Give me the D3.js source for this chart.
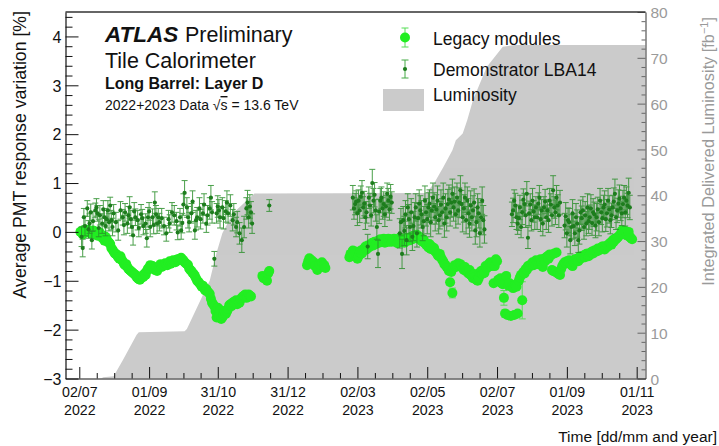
<!DOCTYPE html>
<html>
<head>
<meta charset="utf-8">
<script src="https://cdn.jsdelivr.net/npm/d3@7"></script>
<style>
  body { margin: 0; background: #fff; }
  svg { display: block; }
  text { font-family: "Liberation Sans", Arial, Helvetica, sans-serif; }
</style>
</head>
<body>
<svg id="chart" width="719" height="446"></svg>
<script>
// ---------------- data ----------------
// Bottom axis labels (two lines: day/month and year)
const tickDates = ['2022-07-02','2022-09-01','2022-10-31','2022-12-31','2023-03-02','2023-05-02','2023-07-02','2023-09-01','2023-11-01'];
const tickDayLabels = ['02/07','01/09','31/10','31/12','02/03','02/05','02/07','01/09','01/11'];
const tickYearLabels = ['2022','2022','2022','2022','2023','2023','2023','2023','2023'];

// Legacy modules: mean PMT response variation [%], one line per month
const legacyDates = [
  '2022-07-03','2022-07-04','2022-07-05','2022-07-06','2022-07-07','2022-07-08','2022-07-09','2022-07-10','2022-07-11','2022-07-12','2022-07-13','2022-07-14','2022-07-15','2022-07-16','2022-07-18','2022-07-19','2022-07-20','2022-07-21','2022-07-22','2022-07-23','2022-07-24','2022-07-25','2022-07-26','2022-07-27','2022-07-28','2022-07-29','2022-07-30','2022-07-31',
  '2022-08-01','2022-08-02','2022-08-03','2022-08-04','2022-08-05','2022-08-06','2022-08-07','2022-08-08','2022-08-09','2022-08-10','2022-08-11','2022-08-12','2022-08-13','2022-08-14','2022-08-15','2022-08-16','2022-08-17','2022-08-18','2022-08-19','2022-08-20','2022-08-21','2022-08-22','2022-08-23','2022-08-24','2022-08-25','2022-08-26','2022-08-27','2022-08-28','2022-08-29','2022-08-30','2022-08-31',
  '2022-09-01','2022-09-02','2022-09-03','2022-09-04','2022-09-05','2022-09-06','2022-09-07','2022-09-08','2022-09-09','2022-09-10','2022-09-11','2022-09-12','2022-09-13','2022-09-14','2022-09-15','2022-09-16','2022-09-17','2022-09-18','2022-09-19','2022-09-20','2022-09-21','2022-09-22','2022-09-23','2022-09-24','2022-09-25','2022-09-26','2022-09-27','2022-09-28','2022-09-29','2022-09-30',
  '2022-10-01','2022-10-02','2022-10-03','2022-10-04','2022-10-05','2022-10-06','2022-10-07','2022-10-08','2022-10-09','2022-10-10','2022-10-11','2022-10-12','2022-10-13','2022-10-14','2022-10-15','2022-10-16','2022-10-17','2022-10-18','2022-10-19','2022-10-20','2022-10-21','2022-10-22','2022-10-23','2022-10-24','2022-10-25','2022-10-26','2022-10-27','2022-10-28','2022-10-29','2022-10-30','2022-10-31',
  '2022-11-01','2022-11-02','2022-11-03','2022-11-04','2022-11-05','2022-11-06','2022-11-07','2022-11-08','2022-11-09','2022-11-10','2022-11-11','2022-11-12','2022-11-13','2022-11-14','2022-11-15','2022-11-16','2022-11-17','2022-11-18','2022-11-19','2022-11-20','2022-11-21','2022-11-22','2022-11-23','2022-11-24','2022-11-25','2022-11-26','2022-11-27','2022-11-28','2022-11-29',
  '2022-12-09','2022-12-10','2022-12-13','2022-12-14','2022-12-15',
  '2023-01-17','2023-01-18','2023-01-19','2023-01-21','2023-01-23','2023-01-24','2023-01-26','2023-01-28','2023-01-30',
  '2023-02-01','2023-02-02','2023-02-23','2023-02-24','2023-02-25','2023-02-26','2023-02-27','2023-02-28',
  '2023-03-01','2023-03-02','2023-03-03','2023-03-04','2023-03-05','2023-03-06','2023-03-07','2023-03-08','2023-03-09','2023-03-10','2023-03-11','2023-03-12','2023-03-13','2023-03-14','2023-03-15','2023-03-16','2023-03-17','2023-03-18','2023-03-19','2023-03-20','2023-03-21','2023-03-22','2023-03-23','2023-03-24','2023-03-25','2023-03-26','2023-03-27','2023-03-28','2023-03-29','2023-03-30','2023-03-31',
  '2023-04-01','2023-04-02','2023-04-03','2023-04-04','2023-04-05','2023-04-06','2023-04-07','2023-04-08','2023-04-09','2023-04-10','2023-04-11','2023-04-12','2023-04-13','2023-04-14','2023-04-15','2023-04-16','2023-04-17','2023-04-18','2023-04-19','2023-04-20','2023-04-21','2023-04-22','2023-04-23','2023-04-24','2023-04-25','2023-04-26','2023-04-27','2023-04-28','2023-04-29','2023-04-30',
  '2023-05-01','2023-05-02','2023-05-03','2023-05-04','2023-05-05','2023-05-06','2023-05-07','2023-05-08','2023-05-09','2023-05-10','2023-05-11','2023-05-12','2023-05-13','2023-05-14','2023-05-15','2023-05-16','2023-05-17','2023-05-18','2023-05-19','2023-05-20','2023-05-21','2023-05-22','2023-05-23','2023-05-24','2023-05-25','2023-05-26','2023-05-27','2023-05-28','2023-05-29','2023-05-30','2023-05-31',
  '2023-06-01','2023-06-02','2023-06-03','2023-06-04','2023-06-05','2023-06-06','2023-06-07','2023-06-08','2023-06-09','2023-06-10','2023-06-11','2023-06-12','2023-06-13','2023-06-14','2023-06-15','2023-06-16','2023-06-17','2023-06-18','2023-06-19','2023-06-20','2023-06-21','2023-06-22','2023-06-23','2023-06-24','2023-06-25','2023-06-26','2023-06-27','2023-06-28','2023-06-29','2023-06-30',
  '2023-07-01','2023-07-02','2023-07-03','2023-07-04','2023-07-05','2023-07-06','2023-07-07','2023-07-08','2023-07-09','2023-07-10','2023-07-11','2023-07-12','2023-07-13','2023-07-14','2023-07-15','2023-07-16','2023-07-17','2023-07-18','2023-07-19','2023-07-20','2023-07-21','2023-07-22','2023-07-23','2023-07-24','2023-07-25','2023-07-26','2023-07-27','2023-07-28','2023-07-29','2023-07-30','2023-07-31',
  '2023-08-01','2023-08-02','2023-08-03','2023-08-04','2023-08-05','2023-08-06','2023-08-07','2023-08-08','2023-08-09','2023-08-10','2023-08-11','2023-08-12','2023-08-13','2023-08-14','2023-08-15','2023-08-16','2023-08-17','2023-08-18','2023-08-19','2023-08-20','2023-08-21','2023-08-22','2023-08-23','2023-08-24','2023-08-25','2023-08-26','2023-08-27','2023-08-28','2023-08-29','2023-08-30','2023-08-31',
  '2023-09-01','2023-09-02','2023-09-03','2023-09-04','2023-09-05','2023-09-06','2023-09-07','2023-09-08','2023-09-09','2023-09-10','2023-09-11','2023-09-12','2023-09-13','2023-09-14','2023-09-15','2023-09-16','2023-09-17','2023-09-18','2023-09-19','2023-09-20','2023-09-21','2023-09-22','2023-09-23','2023-09-24','2023-09-25','2023-09-26','2023-09-27','2023-09-28','2023-09-29','2023-09-30',
  '2023-10-01','2023-10-02','2023-10-03','2023-10-04','2023-10-05','2023-10-06','2023-10-07','2023-10-08','2023-10-09','2023-10-10','2023-10-11','2023-10-12','2023-10-13','2023-10-14','2023-10-15','2023-10-16','2023-10-17','2023-10-18','2023-10-19','2023-10-20','2023-10-21','2023-10-22','2023-10-23','2023-10-24','2023-10-25','2023-10-26','2023-10-27','2023-10-28'
];
const legacyValues = [
  0.00,0.02,-0.05,-0.02,0.05,0.03,0.00,0.04,0.02,-0.03,0.01,0.03,0.02,-0.05,-0.08,0.00,-0.02,-0.06,-0.12,-0.08,-0.18,-0.10,-0.15,-0.20,-0.22,-0.25,-0.33,-0.36,
  -0.40,-0.44,-0.45,-0.48,-0.52,-0.55,-0.50,-0.57,-0.60,-0.65,-0.68,-0.66,-0.72,-0.76,-0.78,-0.80,-0.82,-0.84,-0.86,-0.88,-0.92,-0.95,-0.97,-0.98,-0.95,-0.90,-0.92,-0.85,-0.88,-0.80,-0.75,
  -0.74,-0.68,-0.72,-0.70,-0.75,-0.78,-0.74,-0.80,-0.72,-0.70,-0.66,-0.72,-0.70,-0.68,-0.64,-0.66,-0.68,-0.64,-0.60,-0.65,-0.62,-0.58,-0.60,-0.62,-0.57,-0.56,-0.58,-0.55,-0.53,-0.57,
  -0.58,-0.62,-0.64,-0.66,-0.68,-0.75,-0.78,-0.80,-0.84,-0.86,-0.90,-0.95,-1.00,-1.02,-1.05,-1.08,-1.12,-1.10,-1.15,-1.20,-1.17,-1.22,-1.24,-1.27,-1.37,-1.45,-1.48,-1.52,-1.62,-1.75,-1.55,
  -1.72,-1.60,-1.78,-1.75,-1.70,-1.62,-1.68,-1.63,-1.58,-1.50,-1.48,-1.52,-1.45,-1.43,-1.46,-1.40,-1.48,-1.42,-1.45,-1.38,-1.35,-1.32,-1.30,-1.28,-1.35,-1.33,-1.28,-1.30,-1.32,
  -0.90,-0.95,-1.00,-0.85,-0.80,
  -0.68,-0.60,-0.54,-0.58,-0.62,-0.70,-0.78,-0.66,-0.62,
  -0.68,-0.74,-0.52,-0.45,-0.50,-0.38,-0.46,-0.40,
  -0.48,-0.55,-0.50,-0.42,-0.38,-0.44,-0.36,-0.34,-0.30,-0.36,-0.28,-0.32,-0.30,-0.26,-0.22,-0.28,-0.20,-0.25,-0.23,-0.18,-0.22,-0.15,-0.20,-0.17,-0.14,-0.22,-0.16,-0.20,-0.14,-0.20,-0.15,
  -0.20,-0.17,-0.14,-0.20,-0.18,-0.23,-0.16,-0.12,-0.18,-0.20,-0.15,-0.22,-0.16,-0.12,-0.18,-0.14,-0.17,-0.10,-0.15,-0.08,-0.13,-0.12,-0.06,-0.14,-0.10,-0.12,-0.18,-0.20,-0.16,-0.23,
  -0.26,-0.28,-0.32,-0.25,-0.35,-0.30,-0.36,-0.33,-0.40,-0.42,-0.47,-0.50,-0.45,-0.52,-0.57,-0.60,-0.66,-0.68,-0.72,-0.75,-0.80,-1.03,-0.82,-1.25,-0.74,-0.68,-0.72,-0.70,-0.64,-0.70,-0.66,
  -0.70,-0.75,-0.78,-0.72,-0.80,-0.82,-0.85,-0.78,-0.88,-0.90,-0.95,-0.86,-0.92,-0.98,-1.00,-0.95,-0.83,-0.80,-0.86,-0.78,-0.84,-0.70,-0.75,-0.72,-0.65,-0.62,-0.70,-0.66,-1.05,-0.70,
  -0.56,-0.60,-0.98,-1.02,-0.95,-1.05,-1.07,-1.35,-1.67,-0.90,-1.70,-1.10,-1.05,-1.72,-1.12,-1.15,-1.70,-1.08,-1.12,-1.67,-1.00,-0.93,-0.88,-1.40,-0.82,-0.85,-0.76,-0.78,-0.70,-0.72,-0.68,
  -0.66,-0.62,-0.68,-0.65,-0.58,-0.62,-0.66,-0.60,-0.56,-0.62,-0.72,-0.55,-0.60,-0.52,-0.50,-0.55,-0.46,-0.48,-0.78,-0.80,-0.44,-0.82,-0.42,-0.85,-0.86,-0.88,-0.76,-0.70,-0.66,-0.62,-0.64,
  -0.60,-0.62,-0.58,-0.65,-0.68,-0.70,-0.62,-0.56,-0.58,-0.55,-0.60,-0.52,-0.50,-0.54,-0.50,-0.48,-0.52,-0.45,-0.44,-0.50,-0.47,-0.42,-0.40,-0.44,-0.38,-0.38,-0.40,-0.34,-0.38,-0.35,
  -0.32,-0.30,-0.30,-0.36,-0.33,-0.28,-0.30,-0.25,-0.22,-0.26,-0.17,-0.20,-0.14,-0.15,-0.12,-0.10,-0.07,-0.05,0.03,-0.02,-0.05,0.02,-0.03,-0.08,0.00,-0.10,-0.13,-0.15
];
// Legacy points whose error bars stick out beyond the marker
const legacyErrorDates = ['2023-05-22','2023-05-24','2023-07-08','2023-07-09','2023-07-24'];
const legacyErrorSizes = [0.06, 0.10, 0.15, 0.08, 0.38];

// Demonstrator LBA14: mean PMT response variation [%] and its uncertainty, one line per month
const demoDates = [
  '2022-07-04','2022-07-05','2022-07-06','2022-07-07','2022-07-09','2022-07-10','2022-07-11','2022-07-12','2022-07-13','2022-07-14','2022-07-16','2022-07-17','2022-07-18','2022-07-19','2022-07-20','2022-07-22','2022-07-23','2022-07-24','2022-07-25','2022-07-26','2022-07-27','2022-07-28','2022-07-29','2022-07-30','2022-07-31',
  '2022-08-01','2022-08-03','2022-08-05','2022-08-07','2022-08-09','2022-08-10','2022-08-11','2022-08-13','2022-08-14','2022-08-15','2022-08-16','2022-08-17','2022-08-18','2022-08-19','2022-08-20','2022-08-22','2022-08-23','2022-08-25','2022-08-26','2022-08-27','2022-08-29','2022-08-30','2022-08-31',
  '2022-09-01','2022-09-02','2022-09-04','2022-09-05','2022-09-06','2022-09-07','2022-09-08','2022-09-09','2022-09-10','2022-09-12','2022-09-14','2022-09-16','2022-09-18','2022-09-19','2022-09-21','2022-09-23','2022-09-25','2022-09-26','2022-09-28','2022-09-29','2022-09-30',
  '2022-10-01','2022-10-02','2022-10-04','2022-10-05','2022-10-06','2022-10-08','2022-10-09','2022-10-11','2022-10-12','2022-10-13','2022-10-15','2022-10-16','2022-10-18','2022-10-19','2022-10-21','2022-10-22','2022-10-24','2022-10-25','2022-10-26','2022-10-28','2022-10-30','2022-10-31',
  '2022-11-01','2022-11-02','2022-11-04','2022-11-05','2022-11-07','2022-11-08','2022-11-09','2022-11-11','2022-11-13','2022-11-14','2022-11-16','2022-11-17','2022-11-19','2022-11-21','2022-11-23','2022-11-25','2022-11-26','2022-11-27','2022-11-28','2022-11-29','2022-11-30',
  '2022-12-15',
  '2023-02-26','2023-02-27','2023-02-28',
  '2023-03-01','2023-03-02','2023-03-03','2023-03-04','2023-03-05','2023-03-06','2023-03-07','2023-03-08','2023-03-09','2023-03-10','2023-03-11','2023-03-12','2023-03-13','2023-03-14','2023-03-15','2023-03-16','2023-03-17','2023-03-18','2023-03-19','2023-03-20','2023-03-21','2023-03-22','2023-03-23','2023-03-24','2023-03-25','2023-03-26','2023-03-27','2023-03-28','2023-03-29','2023-03-30','2023-03-31',
  '2023-04-01','2023-04-08','2023-04-09','2023-04-10','2023-04-11','2023-04-12','2023-04-13','2023-04-14','2023-04-15','2023-04-16','2023-04-17','2023-04-18','2023-04-19','2023-04-20','2023-04-21','2023-04-22','2023-04-23','2023-04-24','2023-04-25','2023-04-26','2023-04-27','2023-04-28','2023-04-29','2023-04-30',
  '2023-05-01','2023-05-02','2023-05-03','2023-05-04','2023-05-05','2023-05-06','2023-05-07','2023-05-08','2023-05-09','2023-05-10','2023-05-11','2023-05-12','2023-05-13','2023-05-14','2023-05-15','2023-05-16','2023-05-17','2023-05-18','2023-05-19','2023-05-20','2023-05-21','2023-05-22','2023-05-23','2023-05-24','2023-05-25','2023-05-26','2023-05-27','2023-05-28','2023-05-29','2023-05-30','2023-05-31',
  '2023-06-01','2023-06-02','2023-06-03','2023-06-04','2023-06-05','2023-06-06','2023-06-07','2023-06-08','2023-06-09','2023-06-10','2023-06-11','2023-06-12','2023-06-13','2023-06-14','2023-06-15','2023-06-16','2023-06-17','2023-06-18','2023-06-19','2023-06-20','2023-06-21',
  '2023-07-15','2023-07-16','2023-07-17','2023-07-18','2023-07-19','2023-07-20','2023-07-21','2023-07-22','2023-07-23','2023-07-24','2023-07-25','2023-07-26','2023-07-27','2023-07-28','2023-07-29','2023-07-30','2023-07-31',
  '2023-08-01','2023-08-02','2023-08-03','2023-08-04','2023-08-05','2023-08-06','2023-08-07','2023-08-08','2023-08-09','2023-08-10','2023-08-11','2023-08-12','2023-08-13','2023-08-14','2023-08-15','2023-08-16','2023-08-17','2023-08-18','2023-08-19','2023-08-20','2023-08-21','2023-08-22','2023-08-23','2023-08-24','2023-08-25','2023-08-26','2023-08-30','2023-08-31',
  '2023-09-01','2023-09-02','2023-09-03','2023-09-04','2023-09-05','2023-09-06','2023-09-07','2023-09-08','2023-09-09','2023-09-10','2023-09-11','2023-09-12','2023-09-13','2023-09-14','2023-09-15','2023-09-16','2023-09-17','2023-09-18','2023-09-19','2023-09-20','2023-09-21','2023-09-22','2023-09-23','2023-09-24','2023-09-25','2023-09-26','2023-09-27','2023-09-28','2023-09-29','2023-09-30',
  '2023-10-01','2023-10-02','2023-10-03','2023-10-04','2023-10-05','2023-10-06','2023-10-07','2023-10-08','2023-10-09','2023-10-10','2023-10-11','2023-10-12','2023-10-13','2023-10-14','2023-10-15','2023-10-16','2023-10-17','2023-10-18','2023-10-19','2023-10-20','2023-10-21','2023-10-22','2023-10-23','2023-10-24','2023-10-25','2023-10-26'
];
const demoValues = [
  -0.10,-0.33,0.30,0.12,0.48,0.05,0.17,0.40,-0.17,0.22,0.44,0.50,0.38,0.08,0.34,0.17,0.46,0.30,0.12,0.26,0.44,0.20,0.54,0.24,0.10,
  0.38,0.20,0.03,0.44,0.30,0.14,0.40,0.17,0.34,0.50,0.26,0.10,-0.07,0.42,0.30,0.24,0.08,0.36,0.28,0.12,0.17,-0.13,0.30,
  0.42,0.10,0.30,0.14,0.60,0.36,0.17,0.30,0.20,0.28,0.12,-0.03,0.26,0.17,0.40,0.34,0.22,-0.01,0.30,0.03,0.18,
  0.56,0.80,0.50,0.30,0.20,0.38,0.62,0.03,0.24,0.30,0.48,0.26,0.38,0.56,0.17,0.34,0.48,0.70,0.40,-0.55,0.38,0.52,
  0.44,0.30,0.50,0.28,0.42,0.60,0.38,0.54,0.24,0.36,0.10,0.20,-0.03,-0.17,0.10,0.48,0.60,0.30,0.52,0.40,0.17,
  0.54,
  0.70,0.48,0.57,
  0.62,0.38,0.64,0.44,0.72,0.80,0.50,0.58,0.30,0.40,-0.30,0.70,0.54,0.34,1.00,0.64,0.76,0.44,0.10,-0.45,0.42,0.64,0.70,0.48,0.57,0.36,0.52,0.78,0.64,0.46,0.72,
  0.60,-0.03,0.20,-0.45,0.24,0.02,0.36,-0.17,0.50,0.26,0.10,0.40,-0.10,0.12,0.30,0.50,-0.03,0.28,0.58,0.44,0.36,0.10,0.22,0.64,
  0.40,0.26,0.50,0.58,0.20,0.44,0.70,0.52,0.30,0.46,0.64,0.24,0.34,0.56,0.40,0.70,0.17,0.48,0.30,0.57,0.66,0.40,0.60,0.78,0.50,0.62,0.36,0.70,0.44,0.60,0.85,
  0.57,0.30,0.48,0.70,0.24,0.64,0.38,0.17,0.54,0.30,0.44,0.60,0.03,0.20,0.50,0.38,-0.03,0.30,0.64,0.24,0.05,
  0.36,0.44,0.64,0.54,0.30,0.17,0.28,0.50,0.10,0.40,0.66,0.57,0.34,0.78,-0.12,0.38,0.56,
  0.24,0.64,0.42,0.30,0.50,0.30,0.58,0.70,0.26,0.44,0.17,0.50,0.62,0.30,0.44,0.24,0.64,0.56,0.34,0.85,0.50,0.40,0.70,0.54,0.34,0.60,0.13,0.32,
  -0.03,0.24,0.20,-0.17,0.10,0.38,0.12,-0.03,0.30,0.17,-0.17,0.03,0.40,0.28,0.44,0.10,0.34,0.17,0.50,0.22,0.30,0.48,0.18,0.40,0.36,0.13,0.30,0.46,0.20,0.64,
  0.40,0.28,0.50,0.56,0.26,0.38,0.64,0.46,0.24,0.34,0.50,0.62,0.78,0.30,0.44,0.58,0.68,0.48,0.38,0.57,0.70,0.40,0.64,0.54,0.80,0.50
];
const demoErrors = [
  0.20,0.18,0.18,0.20,0.16,0.18,0.20,0.17,0.18,0.20,0.15,0.18,0.16,0.18,0.20,0.20,0.18,0.18,0.20,0.18,0.20,0.18,0.17,0.20,0.18,
  0.18,0.20,0.20,0.18,0.16,0.20,0.18,0.20,0.18,0.22,0.18,0.18,0.20,0.18,0.17,0.20,0.18,0.20,0.18,0.18,0.20,0.18,0.20,
  0.18,0.20,0.17,0.18,0.22,0.18,0.20,0.18,0.18,0.20,0.18,0.16,0.18,0.18,0.20,0.20,0.18,0.15,0.18,0.18,0.20,
  0.22,0.25,0.20,0.22,0.20,0.20,0.22,0.18,0.20,0.20,0.22,0.20,0.20,0.22,0.18,0.20,0.22,0.25,0.22,0.15,0.20,0.22,
  0.22,0.22,0.20,0.22,0.22,0.24,0.20,0.22,0.22,0.22,0.20,0.22,0.22,0.25,0.22,0.22,0.25,0.22,0.24,0.22,0.20,
  0.12,
  0.25,0.22,0.22,
  0.22,0.25,0.22,0.25,0.22,0.25,0.22,0.25,0.25,0.22,0.25,0.22,0.25,0.22,0.28,0.25,0.25,0.22,0.25,0.28,0.25,0.25,0.22,0.22,0.25,0.25,0.22,0.22,0.25,0.22,0.25,
  0.22,0.30,0.28,0.30,0.28,0.30,0.28,0.30,0.28,0.30,0.30,0.28,0.28,0.30,0.30,0.28,0.28,0.30,0.28,0.30,0.28,0.28,0.30,0.30,
  0.28,0.30,0.30,0.28,0.30,0.28,0.30,0.28,0.28,0.30,0.30,0.28,0.28,0.30,0.28,0.30,0.28,0.30,0.28,0.30,0.30,0.28,0.30,0.30,0.28,0.30,0.28,0.30,0.28,0.30,0.30,
  0.28,0.30,0.28,0.30,0.28,0.28,0.30,0.28,0.30,0.28,0.30,0.28,0.28,0.30,0.28,0.30,0.28,0.30,0.28,0.30,0.28,
  0.25,0.25,0.22,0.25,0.25,0.22,0.25,0.25,0.22,0.25,0.22,0.22,0.25,0.25,0.22,0.25,0.22,
  0.22,0.25,0.22,0.25,0.22,0.25,0.22,0.25,0.25,0.22,0.25,0.22,0.25,0.25,0.22,0.25,0.25,0.22,0.22,0.30,0.22,0.25,0.25,0.22,0.25,0.25,0.25,0.28,
  0.28,0.25,0.28,0.28,0.25,0.28,0.25,0.25,0.28,0.28,0.25,0.28,0.25,0.25,0.28,0.25,0.28,0.25,0.28,0.25,0.25,0.28,0.25,0.28,0.25,0.25,0.28,0.25,0.28,0.25,
  0.25,0.28,0.25,0.28,0.25,0.28,0.25,0.28,0.28,0.25,0.25,0.28,0.30,0.25,0.25,0.28,0.28,0.25,0.25,0.28,0.25,0.28,0.28,0.25,0.30,0.25
];

// Integrated delivered luminosity [fb^-1]
const lumiDates = ['2022-06-19','2022-07-21','2022-07-23','2022-08-01','2022-08-09','2022-08-21','2022-08-23','2022-10-02','2022-10-04','2022-10-24','2022-10-30','2022-11-04','2022-11-13','2022-12-02',
                   '2023-05-01','2023-05-08','2023-05-16','2023-05-24','2023-05-27','2023-06-02','2023-06-06','2023-06-11','2023-06-23','2023-07-07','2023-07-17','2023-11-10'];
const lumiValues = [0,0,0.3,0.5,4,9.5,10.1,10.3,10.8,21.4,27.5,31.7,36,40.4,
                    40.5,42.6,46.1,49.8,52,53.5,56.4,60.8,68,72.4,72.8,72.8];

// ---------------- chart ----------------
const parse = d3.utcParse('%Y-%m-%d');
const svg = d3.select('#chart');
const P = { left: 65.5, right: 645.5, top: 12, bottom: 378.5 };

const x = d3.scaleUtc()
  .domain([Date.UTC(2022, 5, 19, 23), Date.UTC(2023, 10, 8, 17)])
  .range([P.left, P.right]);
const y = d3.scaleLinear().domain([-3, 4.5]).range([P.bottom, P.top]);
const yR = d3.scaleLinear().domain([0, 80]).range([P.bottom, P.top]);

svg.append('defs').append('clipPath').attr('id', 'plotclip')
  .append('rect').attr('x', P.left).attr('y', P.top)
  .attr('width', P.right - P.left).attr('height', P.bottom - P.top);

const nLeg = Math.min(legacyDates.length, legacyValues.length);
const legacy = d3.range(nLeg).map(i => ({ key: legacyDates[i], t: parse(legacyDates[i]), v: legacyValues[i] }));
const legacyByDate = new Map(legacy.map(d => [d.key, d]));
const legacyBars = legacyErrorDates
  .filter(k => legacyByDate.has(k))
  .map((k, i) => ({ t: legacyByDate.get(k).t, v: legacyByDate.get(k).v, e: legacyErrorSizes[legacyErrorDates.indexOf(k)] }));
const nDemo = Math.min(demoDates.length, demoValues.length, demoErrors.length);
const demo = d3.range(nDemo).map(i => ({ t: parse(demoDates[i]), v: demoValues[i], e: demoErrors[i] }));
const lumi = lumiDates.map((d, i) => ({ t: parse(d), v: lumiValues[i] }));

const plotG = svg.append('g').attr('clip-path', 'url(#plotclip)');

// luminosity (right axis) as filled area
plotG.append('path')
  .datum(lumi)
  .attr('fill', '#cbcbcb')
  .attr('d', d3.area().x(d => x(d.t)).y0(yR(0)).y1(d => yR(d.v)));

// error bars with end caps
function errorBars(g, data, color, cap, width, opacity) {
  const eb = g.append('g').attr('stroke', color).attr('stroke-width', width).attr('opacity', opacity);
  eb.selectAll('line.v').data(data).join('line').attr('class', 'v')
    .attr('x1', d => x(d.t)).attr('x2', d => x(d.t))
    .attr('y1', d => y(d.v - d.e)).attr('y2', d => y(d.v + d.e));
  eb.selectAll('line.lo').data(data).join('line').attr('class', 'lo')
    .attr('x1', d => x(d.t) - cap).attr('x2', d => x(d.t) + cap)
    .attr('y1', d => y(d.v - d.e)).attr('y2', d => y(d.v - d.e));
  eb.selectAll('line.hi').data(data).join('line').attr('class', 'hi')
    .attr('x1', d => x(d.t) - cap).attr('x2', d => x(d.t) + cap)
    .attr('y1', d => y(d.v + d.e)).attr('y2', d => y(d.v + d.e));
}

// legacy modules
const legG = plotG.append('g');
errorBars(legG, legacyBars, '#55dd55', 3.5, 1, 1);
legG.selectAll('circle').data(legacy).join('circle')
  .attr('cx', d => x(d.t)).attr('cy', d => y(d.v)).attr('r', 5)
  .attr('fill', '#22ee22');

// demonstrator
const demG = plotG.append('g');
errorBars(demG, demo, '#2b8f2b', 3, 1, 0.85);
demG.selectAll('circle').data(demo).join('circle')
  .attr('cx', d => x(d.t)).attr('cy', d => y(d.v)).attr('r', 2.1)
  .attr('fill', '#1d7d1d');

// ---------------- axes ----------------
const fmtNum = d => (d < 0 ? '\u2212' + Math.abs(d) : String(d));

// left axis
const yMajor = d3.range(-3, 5, 1);
const yMinor = d3.range(-3, 4.5, 0.2).filter(v => Math.abs(v - Math.round(v)) > 1e-6);
const gLm = svg.append('g').attr('transform', `translate(${P.left},0)`)
  .call(d3.axisLeft(y).tickValues(yMinor).tickSize(-7).tickSizeOuter(0).tickFormat(''));
gLm.select('.domain').remove();
const gL = svg.append('g').attr('transform', `translate(${P.left},0)`)
  .call(d3.axisLeft(y).tickValues(yMajor).tickSize(-13).tickSizeOuter(0).tickPadding(4).tickFormat(fmtNum));
gL.selectAll('text').attr('font-size', 16).attr('fill', '#111').attr('dy', '0.36em');
gL.select('.domain').attr('stroke', '#111').attr('stroke-width', 1.2);
[gL, gLm].forEach(g => g.selectAll('.tick line').attr('stroke', '#111'));

// right axis (luminosity)
const rMinor = d3.range(0, 81, 2).filter(v => v % 10 !== 0);
const gRm = svg.append('g').attr('transform', `translate(${P.right},0)`)
  .call(d3.axisRight(yR).tickValues(rMinor).tickSize(-4).tickSizeOuter(0).tickFormat(''));
gRm.select('.domain').remove();
const gR = svg.append('g').attr('transform', `translate(${P.right},0)`)
  .call(d3.axisRight(yR).tickValues(d3.range(0, 81, 10)).tickSize(-8).tickSizeOuter(0).tickPadding(5));
gR.selectAll('text').attr('font-size', 15.5).attr('fill', '#9a9a9a').attr('dy', '0.36em');
gR.select('.domain').attr('stroke', '#555').attr('stroke-width', 1.2);
[gR, gRm].forEach(g => g.selectAll('.tick line').attr('stroke', '#666'));

// bottom axis (time)
const majorT = tickDates.map(parse);
const minorT = [];
for (let i = 0; i < majorT.length - 1; i++) {
  const a = +majorT[i], b = +majorT[i + 1];
  for (let k = 1; k < 4; k++) minorT.push(new Date(a + (b - a) * k / 4));
}
const gBm = svg.append('g').attr('transform', `translate(0,${P.bottom})`)
  .call(d3.axisBottom(x).tickValues(minorT).tickSize(-5.5).tickSizeOuter(0).tickFormat(''));
gBm.select('.domain').remove();
const gB = svg.append('g').attr('transform', `translate(0,${P.bottom})`)
  .call(d3.axisBottom(x).tickValues(majorT).tickSize(-11.5).tickSizeOuter(0).tickFormat(''));
gB.select('.domain').attr('stroke', '#111').attr('stroke-width', 1.2);
[gB, gBm].forEach(g => g.selectAll('.tick line').attr('stroke', '#111'));
gB.selectAll('.tick').each(function (d, i) {
  const t = d3.select(this).append('text')
    .attr('fill', '#111').attr('font-size', 14.2).attr('text-anchor', 'middle');
  t.append('tspan').attr('x', 0).attr('y', 18.5).text(tickDayLabels[i]);
  t.append('tspan').attr('x', 0).attr('y', 36.5).text(tickYearLabels[i]);
});

// top frame line
svg.append('line').attr('x1', P.left).attr('x2', P.right).attr('y1', P.top).attr('y2', P.top)
  .attr('stroke', '#333').attr('stroke-width', 1.4);

// axis titles
svg.append('text').attr('transform', 'translate(26,11) rotate(-90)')
  .attr('text-anchor', 'end').attr('font-size', 17.7).attr('fill', '#111')
  .text('Average PMT response variation [%]');
const rt = svg.append('text').attr('transform', 'translate(714,17) rotate(-90)')
  .attr('text-anchor', 'end').attr('font-size', 16.3).attr('fill', '#9a9a9a');
rt.append('tspan').text('Integrated Delivered Luminosity [fb');
rt.append('tspan').attr('font-size', 11).attr('dy', -6).text('\u22121');
rt.append('tspan').attr('dy', 6).text(']');
svg.append('text').attr('x', 717).attr('y', 442).attr('text-anchor', 'end')
  .attr('font-size', 15.5).attr('fill', '#111').text('Time [dd/mm and year]');

// labels in the top-left corner
svg.append('text').attr('x', 105).attr('y', 41.5).attr('font-size', 22.5)
  .attr('font-weight', 'bold').attr('font-style', 'italic').attr('fill', '#111').text('ATLAS');
svg.append('text').attr('x', 185).attr('y', 41.5).attr('font-size', 21.5).attr('fill', '#111').text('Preliminary');
svg.append('text').attr('x', 105).attr('y', 68).attr('font-size', 21.5).attr('fill', '#111').text('Tile Calorimeter');
svg.append('text').attr('x', 105).attr('y', 89).attr('font-size', 16).attr('font-weight', 'bold')
  .attr('fill', '#111').text('Long Barrel: Layer D');
const dl = svg.append('text').attr('x', 105).attr('y', 110).attr('font-size', 14).attr('fill', '#111');
dl.append('tspan').text('2022+2023 Data \u221A');
dl.append('tspan').style('text-decoration', 'overline').text('s');
dl.append('tspan').text(' = 13.6 TeV');

// legend
const lg = svg.append('g');
lg.append('line').attr('x1', 405).attr('x2', 405).attr('y1', 28).attr('y2', 47).attr('stroke', '#55dd55');
lg.append('line').attr('x1', 401.5).attr('x2', 408.5).attr('y1', 28).attr('y2', 28).attr('stroke', '#55dd55');
lg.append('line').attr('x1', 401.5).attr('x2', 408.5).attr('y1', 47).attr('y2', 47).attr('stroke', '#55dd55');
lg.append('circle').attr('cx', 405).attr('cy', 37.5).attr('r', 5).attr('fill', '#22ee22');
lg.append('line').attr('x1', 405).attr('x2', 405).attr('y1', 60).attr('y2', 78).attr('stroke', '#44aa44');
lg.append('line').attr('x1', 401.5).attr('x2', 408.5).attr('y1', 60).attr('y2', 60).attr('stroke', '#44aa44');
lg.append('line').attr('x1', 401.5).attr('x2', 408.5).attr('y1', 78).attr('y2', 78).attr('stroke', '#44aa44');
lg.append('circle').attr('cx', 405).attr('cy', 69).attr('r', 2.1).attr('fill', '#1d7d1d');
lg.append('rect').attr('x', 383).attr('y', 89).attr('width', 41).attr('height', 22).attr('fill', '#cbcbcb');
lg.append('text').attr('x', 433).attr('y', 45).attr('font-size', 17.5).attr('fill', '#111').text('Legacy modules');
lg.append('text').attr('x', 433).attr('y', 76).attr('font-size', 17.5).attr('fill', '#111').text('Demonstrator LBA14');
lg.append('text').attr('x', 433).attr('y', 101).attr('font-size', 17.5).attr('fill', '#111').text('Luminosity');
</script>
</body>
</html>
